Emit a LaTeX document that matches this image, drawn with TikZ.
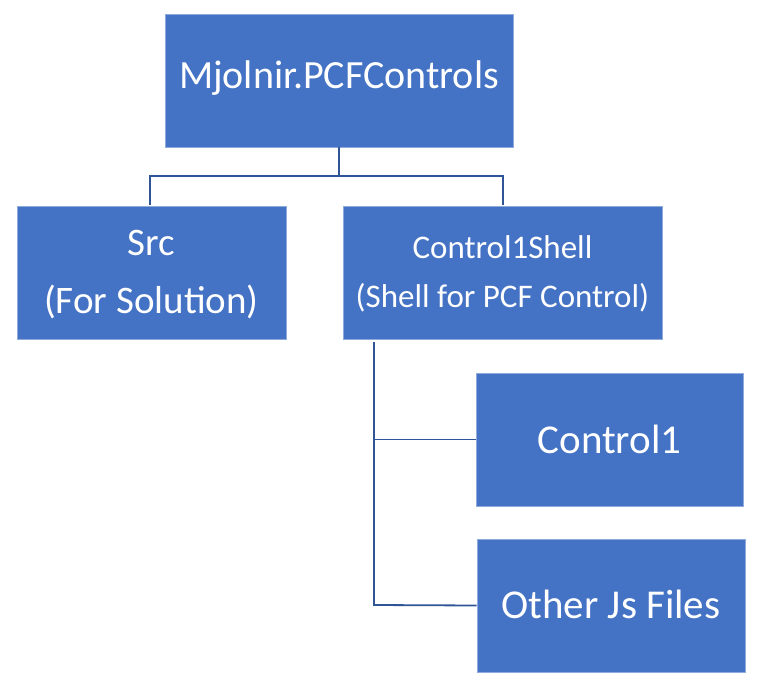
\documentclass[tikz,border=0pt]{standalone}
\usepackage{fontspec}
\setmainfont{Carlito}
\definecolor{boxblue}{HTML}{4472C4}
\definecolor{edgeblue}{HTML}{8FAADC}
\definecolor{linkblue}{HTML}{2F5597}
\begin{document}
\begin{tikzpicture}[x=1pt,y=-1pt,
  blk/.style={draw=edgeblue,line width=0.8pt,fill=boxblue,text=white,inner sep=0pt,align=center},
  link/.style={draw=linkblue,line width=1.8pt}]
\useasboundingbox (0,0) rectangle (762,692);
\node[blk,minimum width=348pt,minimum height=133pt] (top) at (339,80.5) {};
\node[font=\fontsize{40}{48}\selectfont,text=white] (topT) at (339,78) {Mjolnir.PCFControls};
\node[blk,minimum width=269pt,minimum height=133pt] (src) at (151.5,272.5) {};
\node[font=\fontsize{39}{47}\selectfont,text=white] (srcA) at (151.5,243) {Src};
\node[font=\fontsize{39}{47}\selectfont,text=white] (srcB) at (151.5,302) {(For Solution)};
\node[blk,minimum width=319pt,minimum height=133pt] (shell) at (502.5,272.5) {};
\node[font=\fontsize{33}{40}\selectfont,text=white] (shellA) at (502.5,247) {Control1Shell};
\node[font=\fontsize{33}{40}\selectfont,text=white] (shellB) at (502.5,298) {(Shell for PCF Control)};
\node[blk,minimum width=267pt,minimum height=133pt] (c1) at (609.5,439.5) {};
\node[font=\fontsize{41}{49}\selectfont,text=white] (c1T) at (609.5,439) {Control1};
\node[blk,minimum width=268pt,minimum height=133pt] (oth) at (611,605.5) {};
\node[font=\fontsize{41}{49}\selectfont,text=white] (othT) at (611,604) {Other Js Files};
\coordinate (j1) at (339,176);
\draw[link] (top.south) -- (j1);
\draw[link] (150,205) -- (150,176) -- (503,176) -- (503,205);
\draw[link] (374,342) -- (374,605) -- (oth.west);
\draw[link] (374,439.5) -- (c1.west);
\end{tikzpicture}
\end{document}
